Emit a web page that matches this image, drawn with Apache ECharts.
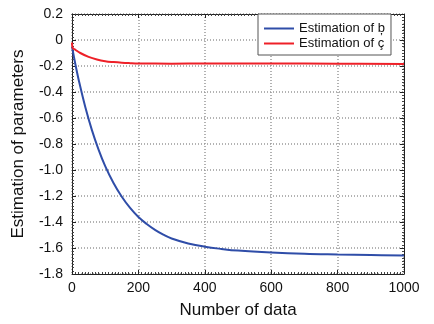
<!DOCTYPE html>
<html>
<head>
<meta charset="utf-8">
<script src="https://cdn.jsdelivr.net/npm/echarts@6/dist/echarts.min.js"></script>
<style>html,body{margin:0;padding:0;background:#fff}#c{width:434px;height:324px}</style>
</head>
<body>
<div id="c"></div>
<script>
const bX = [0, 10, 20, 40, 60, 80, 100, 125, 150, 175, 200, 225, 250, 275, 300, 350, 400, 450, 500, 600, 700, 800, 900, 1000];
const bY = [-0.05, -0.185, -0.305, -0.515, -0.693, -0.843, -0.97, -1.10, -1.206, -1.292, -1.362, -1.415, -1.46, -1.497, -1.527, -1.565, -1.59, -1.607, -1.62, -1.635, -1.645, -1.65, -1.654, -1.657];
const cX = [0, 2, 10, 25, 50, 75, 100, 125, 150, 175, 200, 300, 400, 600, 800, 1000];
const cY = [-0.02, -0.06, -0.075, -0.10, -0.13, -0.15, -0.163, -0.17, -0.175, -0.178, -0.18, -0.182, -0.18, -0.18, -0.182, -0.185];
const seriesNames = ['Estimation of b\u0326', 'Estimation of \u00e7'];
const xTitle = 'Number of data';
const yTitle = 'Estimation of parameters';

const font = 'Liberation Sans, Arial, sans-serif';
const zip = (xs, ys) => xs.map((x, i) => [x, ys[i]]);
const gridLine = { show: true, lineStyle: { color: '#999', width: 1.5, type: [1, 2] } };
const axLine = { show: true, onZero: false, lineStyle: { color: '#222', width: 1 } };
const tick = { show: true, inside: true, length: 4, lineStyle: { color: '#222' } };

const chart = echarts.init(document.getElementById('c'));
chart.setOption({
  animation: false,
  grid: { left: 72, right: 30, top: 14, bottom: 49 },
  legend: {
    orient: 'vertical', left: 258, top: 14,
    width: 139,
    padding: [7, 6, 4, 6],
    itemGap: 0, itemWidth: 30, itemHeight: 2,
    icon: 'rect',
    borderColor: '#555', borderWidth: 1, backgroundColor: '#fff',
    textStyle: { fontFamily: font, fontSize: 13, color: '#111', lineHeight: 15 },
    data: seriesNames
  },
  xAxis: [{
    type: 'value', min: 0, max: 1000, interval: 200,
    name: xTitle, nameLocation: 'middle', nameGap: 28,
    nameTextStyle: { fontFamily: font, fontSize: 17, color: '#111' },
    axisLine: axLine, axisTick: tick,
    minorTick: { show: true, splitNumber: 20, length: 2, lineStyle: { color: '#444' } },
    axisLabel: { fontFamily: font, fontSize: 14, color: '#111', margin: 7, formatter: v => String(v) },
    splitLine: gridLine
  }, {
    type: 'value', min: 0, max: 1000, interval: 200, position: 'top',
    axisLine: axLine, axisTick: tick,
    minorTick: { show: true, splitNumber: 20, length: 2, lineStyle: { color: '#444' } },
    axisLabel: { show: false }, splitLine: { show: false }
  }],
  yAxis: [{
    type: 'value', min: -1.8, max: 0.2, interval: 0.2,
    name: yTitle, nameLocation: 'middle', nameGap: 45, nameRotate: 90,
    nameTextStyle: { fontFamily: font, fontSize: 17, color: '#111' },
    axisLine: axLine, axisTick: tick,
    minorTick: { show: true, splitNumber: 8, length: 2, lineStyle: { color: '#444' } },
    axisLabel: { fontFamily: font, fontSize: 14, color: '#111', margin: 9,
      formatter: v => Math.abs(v) < 1e-9 ? '0' : v.toFixed(1) },
    splitLine: gridLine
  }, {
    type: 'value', min: -1.8, max: 0.2, interval: 0.2, position: 'right',
    axisLine: axLine, axisTick: tick,
    minorTick: { show: true, splitNumber: 8, length: 2, lineStyle: { color: '#444' } },
    axisLabel: { show: false }, splitLine: { show: false }
  }],
  series: [{
    name: seriesNames[0], type: 'line', symbol: 'none', smooth: 0.4,
    data: zip(bX, bY),
    lineStyle: { color: '#2f4da8', width: 2 }, itemStyle: { color: '#2f4da8' }
  }, {
    name: seriesNames[1], type: 'line', symbol: 'none', smooth: 0.4,
    data: zip(cX, cY),
    lineStyle: { color: '#ee2028', width: 2 }, itemStyle: { color: '#ee2028' }
  }]
});
</script>
</body>
</html>
